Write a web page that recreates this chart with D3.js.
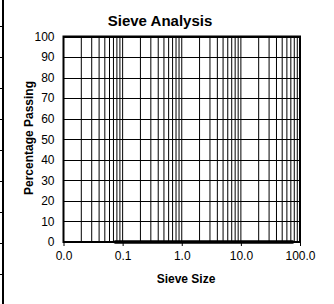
<!DOCTYPE html>
<html>
<head>
	<script src="https://d3js.org/d3.v7.min.js"></script>
	<style>
		html, body {
			margin: 0;
			padding: 0;
			background: #fff;
		}
		svg text {
			font-family: 'Liberation Sans', Arial, sans-serif;
			fill: #000;
		}
	</style>
</head>
<body>
	<div id="chart"></div>
	<script>
		// sieve sizes (mm) and the percentage passing each one
		var sieveSizes = [75, 50, 37.5, 25, 19, 12.5, 9.5, 4.75, 2.36, 1.18, 0.6, 0.3, 0.15, 0.075];
		var percentPassing = [0, 0, 0, 0, 0, 0, 0, 0, 0, 0, 0, 0, 0, 0];
		var xTicks = [0.01, 0.1, 1, 10, 100];
		var yTicks = [0, 10, 20, 30, 40, 50, 60, 70, 80, 90, 100];

		var data = sieveSizes.map(function(s, i){ return {size: s, pass: percentPassing[i]}; });

		var W = 334, H = 304;
		var svg = d3.select('#chart').append('svg')
			.attr('width', W)
			.attr('height', H);

		// bit of spreadsheet border on the far left
		var edge = d3.scaleLinear().domain([0, 8]).range([26, 274]);
		svg.append('line')
			.attr('x1', 3).attr('x2', 3)
			.attr('y1', 0).attr('y2', H)
			.attr('stroke', '#000').attr('stroke-width', 2);
		svg.selectAll('.edgeTick')
			.data(d3.range(0, 9))
			.enter().append('line')
			.attr('class', 'edgeTick')
			.attr('x1', 0).attr('x2', 3)
			.attr('y1', function(d){ return edge(d) + 0.5; })
			.attr('y2', function(d){ return edge(d) + 0.5; })
			.attr('stroke', '#000').attr('stroke-width', 1);

		var x = d3.scaleLog().domain([0.01, 100]).range([63.5, 300]);
		var y = d3.scaleLinear().domain([0, 100]).range([242, 36.5]);

		// minor log gridlines
		var gridX = [];
		[0.01, 0.1, 1, 10].forEach(function(dec){
			for (var k = 1; k <= 9; k++) gridX.push(dec * k);
		});

		svg.append('g').selectAll('line')
			.data(gridX)
			.enter().append('line')
			.attr('x1', function(d){ return x(d); })
			.attr('x2', function(d){ return x(d); })
			.attr('y1', y(100))
			.attr('y2', y(0))
			.attr('stroke', '#000')
			.attr('stroke-width', 1);

		svg.append('g').selectAll('line')
			.data(yTicks)
			.enter().append('line')
			.attr('x1', x(0.01))
			.attr('x2', x(100))
			.attr('y1', function(d){ return Math.round(y(d)) + 0.5; })
			.attr('y2', function(d){ return Math.round(y(d)) + 0.5; })
			.attr('stroke', '#000')
			.attr('stroke-width', 1);

		// plot frame
		svg.append('rect')
			.attr('x', x(0.01))
			.attr('y', y(100))
			.attr('width', x(100) - x(0.01))
			.attr('height', y(0) - y(100))
			.attr('fill', 'none')
			.attr('stroke', '#000')
			.attr('stroke-width', 2);

		// axes
		var xAxis = d3.axisBottom(x)
			.tickValues(xTicks)
			.tickFormat(d3.format('.1f'))
			.tickSize(4)
			.tickPadding(5);
		var gx = svg.append('g')
			.attr('transform', 'translate(0,' + y(0) + ')')
			.call(xAxis);
		gx.select('.domain').remove();
		gx.selectAll('text').style('font-size', '12px');

		var yAxis = d3.axisLeft(y)
			.tickValues(yTicks)
			.tickSize(0)
			.tickPadding(9);
		var gy = svg.append('g')
			.attr('transform', 'translate(' + x(0.01) + ',0)')
			.call(yAxis);
		gy.select('.domain').remove();
		gy.selectAll('text').style('font-size', '12px');

		// series
		var line = d3.line()
			.x(function(d){ return x(d.size); })
			.y(function(d){ return y(d.pass); });
		svg.append('path')
			.datum(data)
			.attr('d', line)
			.attr('fill', 'none')
			.attr('stroke', '#000')
			.attr('stroke-linecap', 'round')
			.attr('stroke-width', 3.5);

		// titles
		svg.append('text')
			.attr('x', 160)
			.attr('y', 26)
			.attr('text-anchor', 'middle')
			.style('font-size', '15px')
			.style('font-weight', 'bold')
			.text('Sieve Analysis');

		svg.append('text')
			.attr('x', 186)
			.attr('y', 283)
			.attr('text-anchor', 'middle')
			.style('font-size', '12px')
			.style('font-weight', 'bold')
			.text('Sieve Size');

		svg.append('text')
			.attr('transform', 'translate(33,138) rotate(-90)')
			.attr('text-anchor', 'middle')
			.style('font-size', '12px')
			.style('font-weight', 'bold')
			.text('Percentage Passing');
	</script>
</body>
</html>
